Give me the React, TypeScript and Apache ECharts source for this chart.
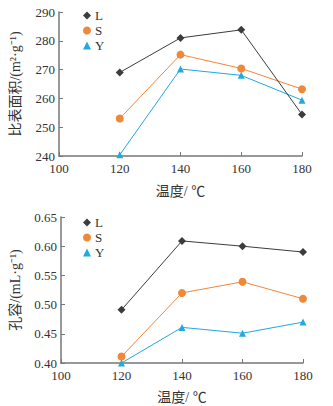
import React, { useEffect, useRef } from "react";
import * as echarts from "echarts";

const temps = [120, 140, 160, 180];
const xTicks = [100, 120, 140, 160, 180];
const areaL = [269, 281, 283.8, 254.4];
const areaS = [253, 275.2, 270.4, 263.2];
const areaY = [240.4, 270.2, 268, 259.4];
const poreL = [0.491, 0.609, 0.6, 0.59];
const poreS = [0.411, 0.52, 0.539, 0.51];
const poreY = [0.4, 0.461, 0.451, 0.47];
const seriesNames = ["L", "S", "Y"];

const colors = ["#3c3c3c", "#f0883a", "#22a9df"];
const symbols = ["diamond", "circle", "triangle"];
const symbolSizes = [8, 8, 7];

const serif = "Liberation Serif, Noto Sans CJK SC, serif";

export default function App() {
  const ref = useRef<HTMLDivElement>(null);
  useEffect(() => {
    if (!ref.current) return;
    const chart = echarts.init(ref.current, undefined, { renderer: "svg" });
    const pair = (vals: number[]) => temps.map((t, i) => [t, vals[i]]);
    const mkSeries = (data: number[][], idx: number, axisIdx: number) => ({
      name: seriesNames[idx],
      type: "line",
      xAxisIndex: axisIdx,
      yAxisIndex: axisIdx,
      data,
      symbol: symbols[idx],
      symbolSize: symbolSizes[idx],
      clip: false,
      lineStyle: { color: colors[idx], width: 1 },
      itemStyle: { color: colors[idx] },
      z: 3 - idx,
    });
    const axisLine = { show: true, lineStyle: { color: "#777", width: 1.5 } };
    const axisTick = { show: true, inside: true, length: 4, lineStyle: { color: "#777" } };
    const axisLabel = { color: "#333", fontFamily: serif, fontSize: 13 };
    const xAxisBase = (gi: number, gap: number) => ({
      type: "value",
      gridIndex: gi,
      min: xTicks[0],
      max: xTicks[xTicks.length - 1],
      interval: 20,
      axisLine,
      axisTick,
      axisLabel: { ...axisLabel, margin: 6 },
      splitLine: { show: false },
      name: "温度/ ℃",
      nameLocation: "middle",
      nameGap: gap,
      nameTextStyle: { color: "#333", fontFamily: serif, fontSize: 14 },
    });
    const legendBase = (top: number, left: number) => ({
      orient: "vertical",
      left,
      top,
      itemGap: 2,
      itemWidth: 8,
      itemHeight: 8,
      textStyle: { color: "#333", fontFamily: serif, fontSize: 13, lineHeight: 12, padding: [0, 0, 0, -1] },
      data: seriesNames.map((n, i) => ({ name: n, icon: symbols[i] })),
    });
    chart.setOption({
      animation: false,
      grid: [
        { left: 58, right: 31, top: 12, height: 144 },
        { left: 55, right: 30, top: 217, height: 146 },
      ],
      legend: [legendBase(4, 78), legendBase(211, 78)],
      xAxis: [xAxisBase(0, 28), xAxisBase(1, 27)],
      yAxis: [
        {
          type: "value",
          gridIndex: 0,
          min: 240,
          max: 290,
          interval: 10,
          axisLine,
          axisTick,
          axisLabel: { ...axisLabel, margin: 4 },
          splitLine: { show: false },
          name: "比表面积/(m²·g⁻¹)",
          nameLocation: "middle",
          nameRotate: 90,
          nameGap: 37,
          nameTextStyle: { color: "#333", fontFamily: serif, fontSize: 14 },
        },
        {
          type: "value",
          gridIndex: 1,
          min: 0.4,
          max: 0.65,
          interval: 0.05,
          axisLine,
          axisTick,
          axisLabel: { ...axisLabel, margin: 4, formatter: (v: number) => v.toFixed(2) },
          splitLine: { show: false },
          name: "孔容/(mL·g⁻¹)",
          nameLocation: "middle",
          nameRotate: 90,
          nameGap: 39,
          nameTextStyle: { color: "#333", fontFamily: serif, fontSize: 14 },
        },
      ],
      series: [
        mkSeries(pair(areaL), 0, 0),
        mkSeries(pair(areaS), 1, 0),
        mkSeries(pair(areaY), 2, 0),
        mkSeries(pair(poreL), 0, 1),
        mkSeries(pair(poreS), 1, 1),
        mkSeries(pair(poreY), 2, 1),
      ],
    });
    return () => chart.dispose();
  }, []);
  return (
    <div
      ref={ref}
      style={{ position: "fixed", left: 0, top: 0, width: 333, height: 406, background: "#fff" }}
    />
  );
}
